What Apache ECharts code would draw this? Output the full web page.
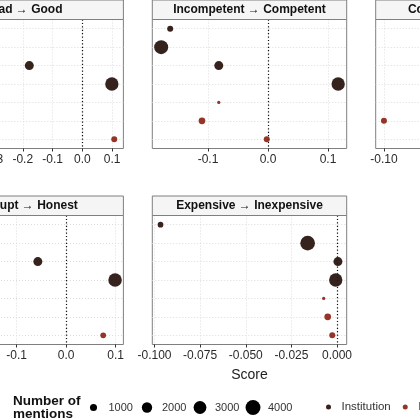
<!DOCTYPE html>
<html>
<head>
<meta charset="utf-8">
<script src="https://cdn.jsdelivr.net/npm/echarts@6/dist/echarts.min.js"></script>
<style>
html,body{margin:0;padding:0;background:#fff;overflow:hidden;width:420px;height:420px;}
#wrap{position:relative;width:420px;height:420px;overflow:hidden;}
#chart{position:absolute;left:-80px;top:0;width:660px;height:420px;}
</style>
</head>
<body>
<div id="wrap"><div id="chart"></div></div>
<script>
// ---------- data ----------
const rows = ["Row 1", "Row 2", "Row 3", "Row 4", "Row 5", "Row 6", "Row 7"];
const rowGroup = ["Institution", "Institution", "Institution", "Institution", "Individual", "Individual", "Individual"];
const groups = ["Institution", "Individual"];

const badGoodScore = [null, null, -0.178, 0.099, null, null, 0.107];
const badGoodN     = [null, null, 1550, 3220, null, null, 765];

const incompScore = [-0.163, -0.178, -0.082, 0.117, -0.082, -0.110, -0.002];
const incompN     = [765, 3550, 1550, 3220, 330, 920, 765];

const thirdScore = [null, null, null, null, null, -0.100, null];
const thirdN     = [null, null, null, null, null, 765, null];

const corruptScore = [null, null, -0.057, 0.099, null, null, 0.075];
const corruptN     = [null, null, 1550, 3310, null, null, 700];

const expScore = [-0.0967, -0.0161, 0.0005, -0.0007, -0.0073, -0.0051, -0.0026];
const expN     = [700, 3900, 1550, 3220, 330, 920, 765];

const panelTitles = ["Bad → Good", "Incompetent → Competent", "Complicated → Simple", "Corrupt → Honest", "Expensive → Inexpensive"];
const tickValues = [
  [-0.5, -0.4, -0.3, -0.2, -0.1, 0, 0.1],
  [-0.1, 0, 0.1],
  [-0.1, -0.05, 0, 0.05],
  [-0.2, -0.1, 0, 0.1],
  [-0.1, -0.075, -0.05, -0.025, 0]
];
const tickDecimals = [1, 1, 2, 1, 3];
const axisRanges = [[-0.51, 0.1377], [-0.1928, 0.1312], [-0.1075, 0.0692], [-0.2768, 0.1158], [-0.1012, 0.0053]];
const sizeLegendValues = [1000, 2000, 3000, 4000];

const panelScores = [badGoodScore, incompScore, thirdScore, corruptScore, expScore];
const panelNs = [badGoodN, incompN, thirdN, corruptN, expN];

// ---------- layout / style ----------
const OFF = 80; // canvas is shifted left by this many pixels
const layout = [
  {left: -71, top: 19.5},
  {left: 152.3, top: 19.5},
  {left: 375.7, top: 19.5},
  {left: -71, top: 215.5},
  {left: 152.3, top: 215.5}
];
const PW = 194.4, PH = 129, STRIP = 19.5;
const colors = {Institution: "#2b1712", Individual: "#8f2a1b"};
const FONT = "'Liberation Sans', Arial, sans-serif";
const sizeFn = n => Math.sqrt(Math.max(6, -8 + 0.0575 * n));

const grids = [], xAxes = [], yAxes = [], series = [], graphics = [];
layout.forEach((L, p) => {
  const gx = L.left + OFF;
  grids.push({left: gx, top: L.top, width: PW, height: PH, show: true,
    borderColor: "#7f7f7f", borderWidth: 1, backgroundColor: "#fff", containLabel: false});
  xAxes.push({
    type: "value", gridIndex: p, min: axisRanges[p][0], max: axisRanges[p][1],
    axisLine: {show: false},
    axisTick: {show: true, length: 3, lineStyle: {color: "#333"}, customValues: tickValues[p]},
    axisLabel: {show: true, customValues: tickValues[p], color: "#2a2a2a", fontSize: 12, fontFamily: FONT, margin: 5,
      formatter: v => v.toFixed(tickDecimals[p])},
    splitLine: {show: true, lineStyle: {color: "#dcdcdc", width: 1, type: [1, 2]}},
    name: p === 4 ? "Score" : "", nameLocation: "middle", nameGap: 24,
    nameTextStyle: {fontSize: 14, color: "#222", fontFamily: FONT}
  });
  yAxes.push({
    type: "value", gridIndex: p, min: 0.5, max: 7.5, inverse: true,
    axisLine: {show: false}, axisLabel: {show: false},
    axisTick: {show: false, customValues: rows.map((r, i) => i + 1)},
    splitLine: {show: true, lineStyle: {color: "#dcdcdc", width: 1, type: [1, 2]}}
  });
  groups.forEach((g, gi) => {
    const data = [];
    rows.forEach((r, i) => {
      if (rowGroup[i] === g && panelScores[p][i] !== null) {
        data.push([panelScores[p][i], i + 1, panelNs[p][i]]);
      }
    });
    const s = {
      name: g, type: "scatter", xAxisIndex: p, yAxisIndex: p, data: data,
      symbolSize: d => sizeFn(d[2]),
      itemStyle: {color: colors[g], opacity: 0.95},
      z: 3
    };
    if (gi === 0) {
      s.markLine = {silent: true, symbol: "none", label: {show: false},
        lineStyle: {color: "#111", width: 1.2, type: [1.2, 2.2]},
        data: [{xAxis: 0}], z: 2};
    }
    series.push(s);
  });
  // strip
  graphics.push({type: "rect", shape: {x: gx, y: L.top - STRIP, width: PW, height: STRIP},
    style: {fill: "#f5f5f5", stroke: "#7f7f7f", lineWidth: 1}, z: 10});
  graphics.push({type: "text", x: gx + PW / 2, y: L.top - STRIP / 2,
    style: {text: panelTitles[p], fill: "#111", font: "bold 12px " + FONT, textAlign: "center", textVerticalAlign: "middle"}, z: 11});
});

// size legend
graphics.push({type: "text", x: 13 + OFF, y: 395,
  style: {text: "Number of\nmentions", fill: "#111", font: "bold 13.5px " + FONT, lineHeight: 13, textAlign: "left", textVerticalAlign: "top"}});
const sizeLegendX = [93.5, 147, 200, 253];
sizeLegendValues.forEach((v, i) => {
  graphics.push({type: "circle", shape: {cx: sizeLegendX[i] + OFF, cy: 407.5, r: sizeFn(v) / 2}, style: {fill: "#000"}});
  graphics.push({type: "text", x: sizeLegendX[i] + 15 + OFF, y: 408,
    style: {text: String(v), fill: "#333", font: "11px " + FONT, textAlign: "left", textVerticalAlign: "middle"}});
});

const chart = echarts.init(document.getElementById("chart"), null, {renderer: "canvas"});
chart.setOption({
  backgroundColor: "#fff",
  animation: false,
  grid: grids, xAxis: xAxes, yAxis: yAxes, series: series,
  legend: {data: groups, left: 321 + OFF, top: 396, icon: "circle", itemWidth: 16, itemHeight: 5, itemGap: 12,
    textStyle: {fontSize: 11.5, color: "#333", fontFamily: FONT}, selectedMode: false},
  graphic: graphics
});
</script>
</body>
</html>
